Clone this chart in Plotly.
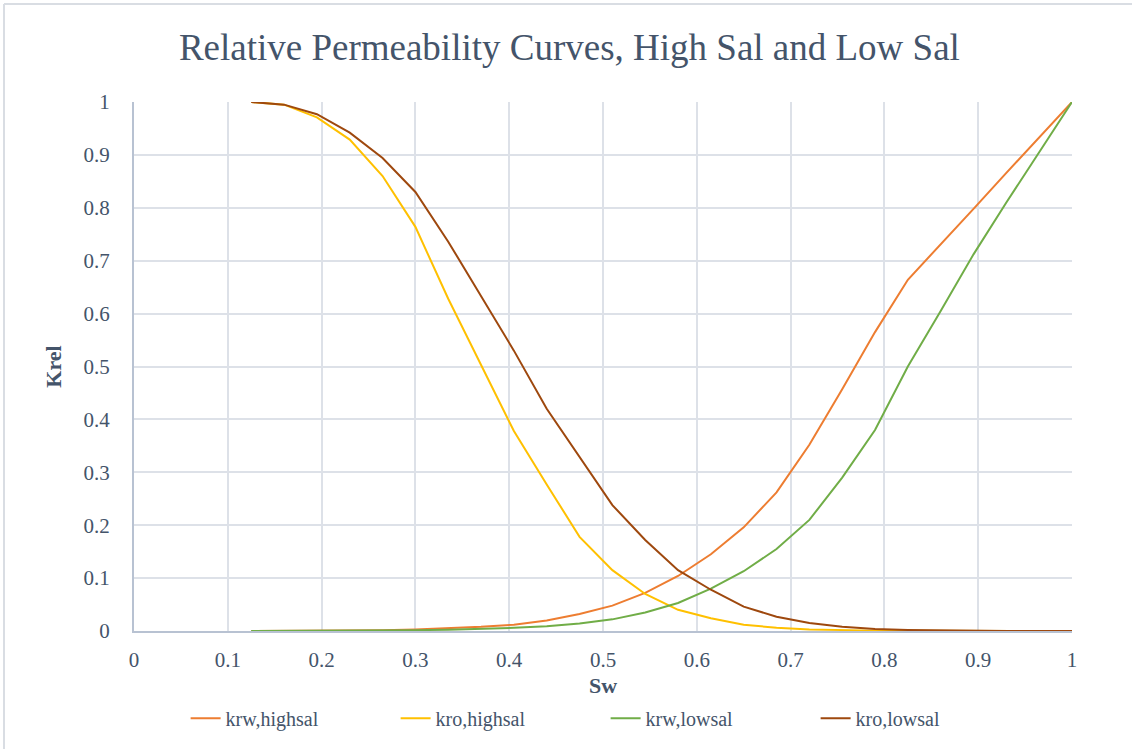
import plotly.graph_objects as go

# Water saturation grid
sw = [0.125, 0.16, 0.195, 0.23, 0.265, 0.30, 0.335, 0.37, 0.405, 0.44, 0.475,
      0.51, 0.545, 0.58, 0.615, 0.65, 0.685, 0.72, 0.755, 0.79, 0.825, 0.86,
      0.895, 0.93, 0.965, 1.0]

krw_highsal = [0.0, 0.0001, 0.0003, 0.0007, 0.0015, 0.003, 0.005, 0.008, 0.012,
               0.02, 0.032, 0.048, 0.072, 0.104, 0.145, 0.196, 0.262, 0.352,
               0.457, 0.565, 0.664, 0.73, 0.798, 0.866, 0.933, 1.0]
kro_highsal = [1.0, 0.995, 0.971, 0.929, 0.86, 0.764, 0.628, 0.503, 0.378, 0.277,
               0.178, 0.115, 0.07, 0.04, 0.024, 0.012, 0.006, 0.003, 0.0015,
               0.0007, 0.0003, 0.0001, 0.0, 0.0, 0.0, 0.0]
krw_lowsal = [0.0, 0.0001, 0.0002, 0.0004, 0.0008, 0.0015, 0.0025, 0.004, 0.006,
              0.009, 0.014, 0.022, 0.035, 0.053, 0.08, 0.113, 0.155, 0.21, 0.29,
              0.38, 0.5, 0.605, 0.712, 0.81, 0.905, 1.0]
kro_lowsal = [1.0, 0.995, 0.977, 0.942, 0.894, 0.83, 0.736, 0.632, 0.53, 0.42,
              0.33, 0.238, 0.172, 0.115, 0.078, 0.046, 0.027, 0.015, 0.008,
              0.004, 0.002, 0.001, 0.0005, 0.0, 0.0, 0.0]

series = [
    ("krw,highsal", krw_highsal, "#ED7D31"),
    ("kro,highsal", kro_highsal, "#FFC000"),
    ("krw,lowsal", krw_lowsal, "#70AD47"),
    ("kro,lowsal", kro_lowsal, "#9E480E"),
]

x_ticks = [0, 0.1, 0.2, 0.3, 0.4, 0.5, 0.6, 0.7, 0.8, 0.9, 1]
y_ticks = [0, 0.1, 0.2, 0.3, 0.4, 0.5, 0.6, 0.7, 0.8, 0.9, 1]

W, H = 1132, 749
ML, MR, MT, MB = 134, 60, 102, 118
FONT = "Liberation Serif, Times New Roman, serif"
TXT = "#44546A"
GRID = "#DDE1E8"
AXIS = "#B8C2D2"

fig = go.Figure()
for name, vals, color in series:
    fig.add_trace(go.Scatter(x=sw, y=vals, mode="lines", name=name,
                             line=dict(color=color, width=2)))

fig.update_layout(
    width=W, height=H,
    margin=dict(l=ML, r=MR, t=MT, b=MB, autoexpand=False),
    paper_bgcolor="white", plot_bgcolor="white",
    font=dict(family=FONT, color=TXT, size=20),
    title=dict(text="Relative Permeability Curves, High Sal and Low Sal",
               x=0.503, xref="container", xanchor="center",
               y=0.937, yref="container", yanchor="middle",
               font=dict(family=FONT, size=37, color=TXT)),
    legend=dict(orientation="h", x=0.535, xref="container", xanchor="center",
                y=0.041, yref="container", yanchor="middle",
                font=dict(family=FONT, size=20, color=TXT),
                entrywidth=165, entrywidthmode="pixels",
                itemwidth=30, traceorder="normal"),
    showlegend=True,
)

fig.update_xaxes(range=[0, 1], tickvals=x_ticks,
                 ticktext=[f"{v:g}" for v in x_ticks],
                 showgrid=True, gridcolor=GRID, gridwidth=2,
                 showline=True, linecolor=AXIS, linewidth=2,
                 zeroline=False, ticks="", ticklabelstandoff=9,
                 automargin=False,
                 tickfont=dict(family=FONT, size=21, color=TXT),
                 title=dict(text="<b>Sw</b>", standoff=6,
                            font=dict(family=FONT, size=22, color=TXT)))
fig.update_yaxes(range=[0, 1], tickvals=y_ticks,
                 ticktext=[f"{v:g}" for v in y_ticks],
                 showgrid=True, gridcolor=GRID, gridwidth=2,
                 showline=True, linecolor=AXIS, linewidth=2,
                 zeroline=False, ticks="", ticklabelstandoff=18,
                 automargin=False,
                 tickfont=dict(family=FONT, size=21, color=TXT),
                 title=dict(text="<b>Krel</b>", standoff=16,
                            font=dict(family=FONT, size=22, color=TXT)))

# Chart frame (top and left edges)
pw, ph = W - ML - MR, H - MT - MB
fx0 = (4 - ML) / pw
fy1 = (H - MB - 4) / ph
fig.add_shape(type="line", xref="paper", yref="paper",
              x0=fx0, x1=(W + 10 - ML) / pw, y0=fy1, y1=fy1,
              line=dict(color="#D9DDE3", width=2))
fig.add_shape(type="line", xref="paper", yref="paper",
              x0=fx0, x1=fx0, y0=(-MB - 10) / ph, y1=fy1,
              line=dict(color="#D9DDE3", width=2))

fig.write_html("out.html")
